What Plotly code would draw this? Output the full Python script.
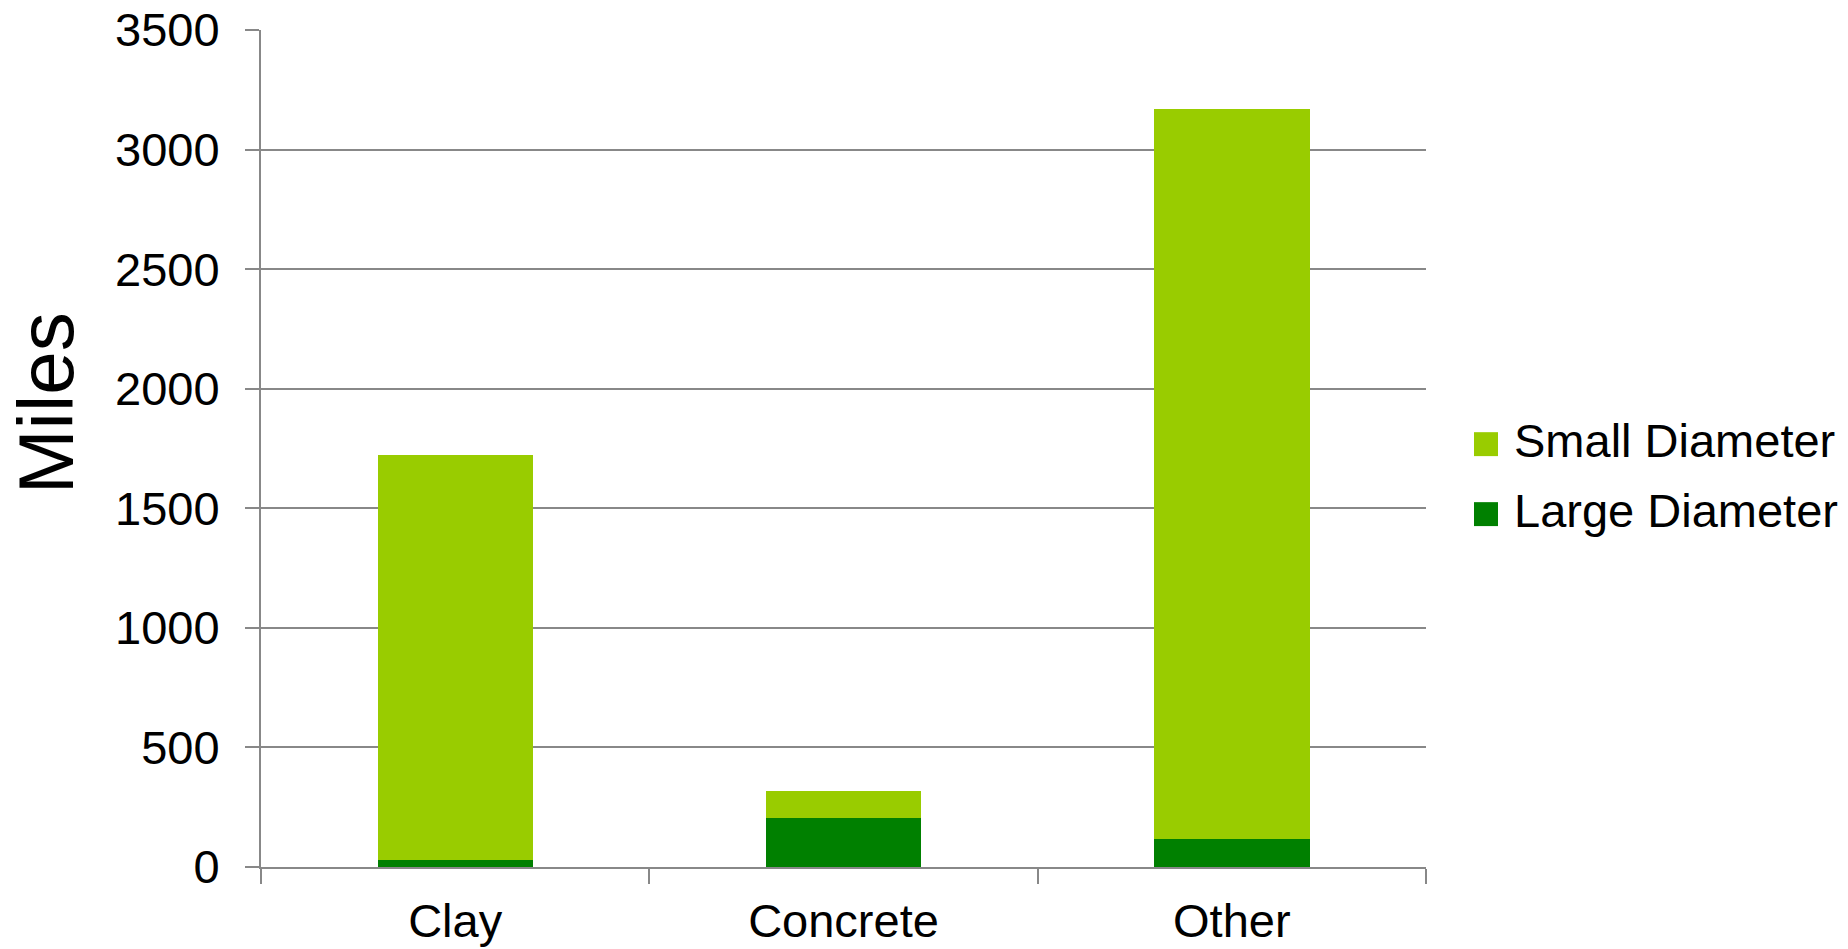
import plotly.graph_objects as go

categories = ["Clay", "Concrete", "Other"]
large_diameter = [29, 205, 117]
small_diameter = [1693, 112, 3051]
series_names = ["Large Diameter", "Small Diameter"]
series_colors = ["#008000", "#99CC00"]
y_ticks = [0, 500, 1000, 1500, 2000, 2500, 3000, 3500]
y_title = "Miles"

FONT = "Liberation Sans, Arial, sans-serif"

fig = go.Figure()
for name, vals, col in zip(series_names, [large_diameter, small_diameter], series_colors):
    fig.add_trace(go.Bar(x=categories, y=vals, name=name, marker=dict(color=col, line=dict(width=0)),
                         showlegend=False))

# Manual legend (large square swatches), ordered like the reference: Small on top
legend_items = list(zip(series_names, series_colors))[::-1]
shapes = []
annotations = []
y0 = 0.5052
step = 0.0836
for i, (name, col) in enumerate(legend_items):
    yc = y0 - i * step
    shapes.append(dict(type="rect", xref="paper", yref="paper", x0=1.0412, x1=1.0618,
                       y0=yc - 0.0143, y1=yc + 0.0143, fillcolor=col, line=dict(width=0)))
    annotations.append(dict(text=name, xref="paper", yref="paper", x=1.0738, y=yc + 0.004,
                            xanchor="left", yanchor="middle", showarrow=False,
                            font=dict(family=FONT, size=47, color="#000000")))

annotations.append(dict(text=y_title, xref="paper", yref="paper", x=-0.1845, y=0.554,
                        xanchor="center", yanchor="middle", textangle=-90, showarrow=False,
                        borderpad=0,
                        font=dict(family=FONT, size=78, color="#000000")))

fig.update_layout(
    barmode="stack",
    bargap=0.6,
    width=1848, height=949,
    margin=dict(l=261, r=422, t=30, b=82, autoexpand=False),
    paper_bgcolor="white", plot_bgcolor="white",
    font=dict(family=FONT, size=47, color="#000000"),
    shapes=shapes,
    annotations=annotations,
    xaxis=dict(
        showline=True, linecolor="#888888", linewidth=2,
        ticks="outside", tickson="boundaries", ticklen=15, tickwidth=1.5, tickcolor="#888888",
        showgrid=False, tickfont=dict(size=47, family=FONT, color="#000000"),
        ticklabelstandoff=12, automargin=False,
    ),
    yaxis=dict(
        range=[0, 3500], tickvals=y_ticks, ticktext=[str(v) for v in y_ticks],
        showline=True, linecolor="#888888", linewidth=2,
        ticks="outside", ticklen=14, tickwidth=1.5, tickcolor="#888888",
        showgrid=True, gridcolor="#888888", gridwidth=1.5,
        zeroline=False, automargin=False, ticklabelstandoff=16,
        tickfont=dict(size=47, family=FONT, color="#000000"),
    ),
)

fig.write_html("out.html")
